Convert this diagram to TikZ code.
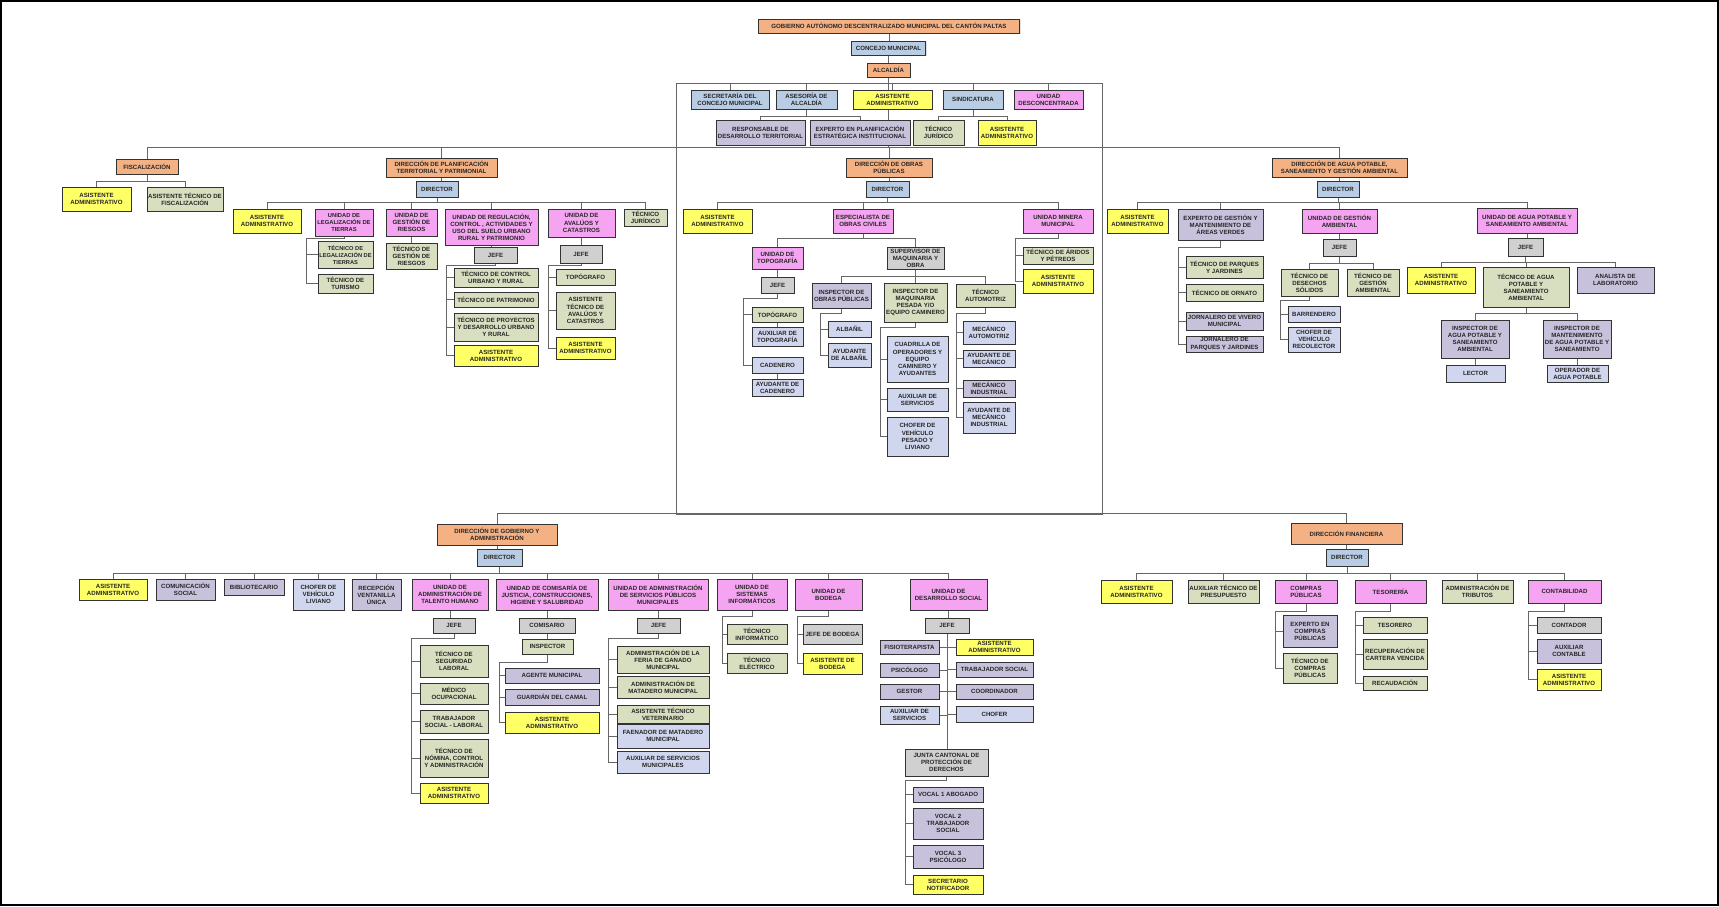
\documentclass[tikz,border=0pt]{standalone}
\usepackage{fontspec}
\setmainfont{Liberation Sans}
\usetikzlibrary{positioning,backgrounds,shadows}

\definecolor{naranja}{RGB}{244,177,131}
\definecolor{azul}{RGB}{184,204,228}
\definecolor{amarillo}{RGB}{255,255,102}
\definecolor{rosa}{RGB}{244,164,240}
\definecolor{verde}{RGB}{216,222,192}
\definecolor{gris}{RGB}{208,208,208}
\definecolor{lila}{RGB}{200,193,220}
\definecolor{celeste}{RGB}{208,214,238}

\tikzset{
  caja/.style={draw=black!80, line width=1pt, align=center, inner sep=0.5pt,
    font=\fontsize{6.1}{7.1}\selectfont\bfseries, text=black!85,
    drop shadow={shadow xshift=1pt, shadow yshift=-1pt, opacity=0.25}},
  sz/.style 2 args={minimum width=#1, minimum height=#2},
  nar/.style={caja, fill=naranja},
  azu/.style={caja, fill=azul},
  ama/.style={caja, fill=amarillo},
  ros/.style={caja, fill=rosa},
  ver/.style={caja, fill=verde},
  gri/.style={caja, fill=gris},
  lil/.style={caja, fill=lila},
  cel/.style={caja, fill=celeste},
  ln/.style={draw=black!60, line width=0.8pt}
}

\begin{document}
\begin{tikzpicture}[x=1pt,y=-1pt]
        \useasboundingbox (0,0) rectangle (1719,906);
        % Marco exterior
        \draw[line width=1.6pt] (1,1) rectangle (1718,905);

        % Rieles y marco central
        \coordinate (fTL) at (676,83);
        \coordinate (fBR) at (1102,514);
        \coordinate (rLeg) at (306,0);
        \coordinate (rReg) at (446,0);
        \coordinate (rAva) at (548,0);
        \coordinate (rTop) at (743,0);
        \coordinate (rIop) at (820,0);
        \coordinate (rImq) at (880,0);
        \coordinate (rAut) at (956,0);
        \coordinate (rMin) at (1015,0);
        \coordinate (rVer) at (1178,0);
        \coordinate (rDes) at (1280,0);
        \coordinate (rTal) at (411,0);
        \coordinate (rCom) at (499,0);
        \coordinate (rSer) at (608,0);
        \coordinate (rSis) at (722,0);
        \coordinate (rBod) at (797,0);
        \coordinate (rJun) at (905,0);
        \coordinate (rCmp) at (1275,0);
        \coordinate (rTes) at (1355,0);
        \coordinate (rCnt) at (1528,0);

        % Cabecera
        \node[nar, sz={261}{14}] (gad) at (889,26) {GOBIERNO AUTÓNOMO DESCENTRALIZADO MUNICIPAL DEL CANTÓN PALTAS};
        \node[azu, sz={74}{14}] (concejo) at (888.5,48) {CONCEJO MUNICIPAL};
        \node[nar, sz={43}{14}] (alcaldia) at (888.5,70) {ALCALDÍA};

        % Asesoría y apoyo
        \node[azu, sz={78}{19}] (secre) at (730,99.5) {SECRETARÍA DEL\\CONCEJO MUNICIPAL};
        \node[azu, sz={61}{19}] (asesoria) at (806.5,99.5) {ASESORÍA DE\\ALCALDÍA};
        \node[ama, sz={79}{19}] (asistA) at (892.5,99.5) {ASISTENTE\\ADMINISTRATIVO};
        \node[azu, sz={60}{19}] (sindic) at (973,99.5) {SINDICATURA};
        \node[ros, sz={69}{19}] (desconc) at (1048.5,99.5) {UNIDAD\\DESCONCENTRADA};
        \node[lil, sz={89}{25}] (respdt) at (760.5,132.5) {RESPONSABLE DE\\DESARROLLO TERRITORIAL};
        \node[lil, sz={100}{25}] (expplan) at (860,132.5) {EXPERTO EN PLANIFICACIÓN\\ESTRATÉGICA INSTITUCIONAL};
        \node[ver, sz={51}{25}] (tecjurA) at (938.5,132.5) {TÉCNICO\\JURÍDICO};
        \node[ama, sz={58}{25}] (asistS) at (1007,132.5) {ASISTENTE\\ADMINISTRATIVO};

        % Fiscalización
        \node[nar, sz={62}{15}] (fisc) at (147,166.5) {FISCALIZACIÓN};
        \node[ama, sz={69}{24}] (asistF) at (96.5,199) {ASISTENTE\\ADMINISTRATIVO};
        \node[ver, sz={76}{24}] (atfisc) at (185,199) {ASISTENTE TÉCNICO DE\\FISCALIZACIÓN};

        % Planificación territorial
        \node[nar, sz={111}{19}] (dirplan) at (441.5,167.5) {DIRECCIÓN DE PLANIFICACIÓN\\TERRITORIAL Y PATRIMONIAL};
        \node[azu, sz={42}{16}] (dirP) at (437,189) {DIRECTOR};
        \node[ama, sz={68}{24}] (asistP) at (267,221) {ASISTENTE\\ADMINISTRATIVO};
        \node[ros, sz={58}{27}, font=\fontsize{5.8}{7}\selectfont\bfseries] (ulegal) at (344,222.5) {UNIDAD DE\\LEGALIZACIÓN DE\\TIERRAS};
        \node[ver, sz={55}{27}, font=\fontsize{5.7}{7}\selectfont\bfseries] (teclegal) at (345.5,254.5) {TÉCNICO DE\\LEGALIZACIÓN DE\\TIERRAS};
        \node[ver, sz={55}{19}] (tectur) at (345.5,283.5) {TÉCNICO DE\\TURISMO};
        \node[ros, sz={51}{27}] (uriesgos) at (411.5,222.5) {UNIDAD DE\\GESTIÓN DE\\RIESGOS};
        \node[ver, sz={51}{26}] (tecriesgos) at (411.5,256) {TÉCNICO DE\\GESTIÓN DE\\RIESGOS};
        \node[ros, sz={93}{36}] (uregul) at (491.5,227) {UNIDAD DE REGULACIÓN,\\CONTROL , ACTIVIDADES Y\\USO DEL SUELO URBANO\\RURAL Y PATRIMONIO};
        \node[gri, sz={43}{16}] (jefeR) at (495.5,255) {JEFE};
        \node[ver, sz={84}{19}] (tcur) at (496,277.5) {TÉCNICO DE CONTROL\\URBANO Y RURAL};
        \node[ver, sz={84}{15}] (tpatr) at (496,299.5) {TÉCNICO DE PATRIMONIO};
        \node[ver, sz={84}{28}] (tproy) at (496,327) {TÉCNICO DE PROYECTOS\\Y DESARROLLO URBANO\\Y RURAL};
        \node[ama, sz={84}{21}] (asistR) at (496,355.5) {ASISTENTE\\ADMINISTRATIVO};
        \node[ros, sz={67}{28}] (uaval) at (581.5,223) {UNIDAD DE\\AVALÚOS Y\\CATASTROS};
        \node[gri, sz={42}{18}] (jefeAv) at (581,254) {JEFE};
        \node[ver, sz={59}{16}] (topoAv) at (585.5,277) {TOPÓGRAFO};
        \node[ver, sz={59}{37}] (atav) at (585.5,310.5) {ASISTENTE\\TÉCNICO DE\\AVALÚOS Y\\CATASTROS};
        \node[ama, sz={59}{22}] (asistAv) at (585.5,348) {ASISTENTE\\ADMINISTRATIVO};
        \node[ver, sz={43}{17}] (tecjurP) at (645.5,217.5) {TÉCNICO\\JURÍDICO};

        % Obras públicas
        \node[nar, sz={86}{19}] (obras) at (889,167.5) {DIRECCIÓN DE OBRAS\\PÚBLICAS};
        \node[azu, sz={43}{16}] (dirO) at (887.5,189) {DIRECTOR};
        \node[ama, sz={69}{24}] (asistO) at (717.5,221) {ASISTENTE\\ADMINISTRATIVO};
        \node[ros, sz={60}{24}] (espoc) at (863,221) {ESPECIALISTA DE\\OBRAS CIVILES};
        \node[ros, sz={70}{24}] (uminera) at (1058,221) {UNIDAD MINERA\\MUNICIPAL};
        \node[ver, sz={70}{17}] (aridos) at (1058,255.5) {TÉCNICO DE ÁRIDOS\\Y PÉTREOS};
        \node[ama, sz={70}{24}] (asistM) at (1058,281) {ASISTENTE\\ADMINISTRATIVO};
        \node[ros, sz={51}{22}] (utopo) at (777.5,258) {UNIDAD DE\\TOPOGRAFÍA};
        \node[gri, sz={33}{16}] (jefeT) at (777.5,285) {JEFE};
        \node[ver, sz={51}{15}] (topoT) at (777.5,314.5) {TOPÓGRAFO};
        \node[cel, sz={51}{19}] (auxtopo) at (777.5,336.5) {AUXILIAR DE\\TOPOGRAFÍA};
        \node[cel, sz={51}{16}] (cadenero) at (777.5,365) {CADENERO};
        \node[cel, sz={51}{17}] (aycad) at (777.5,387.5) {AYUDANTE DE\\CADENERO};
        \node[gri, sz={57}{22}] (superv) at (915.5,258) {SUPERVISOR DE\\MAQUINARIA Y\\OBRA};
        \node[lil, sz={59}{25}] (inspop) at (841.5,295.5) {INSPECTOR DE\\OBRAS PÚBLICAS};
        \node[cel, sz={43}{16}] (albanil) at (849.5,329) {ALBAÑIL};
        \node[cel, sz={43}{24}] (ayalb) at (849.5,355) {AYUDANTE\\DE ALBAÑIL};
        \node[ver, sz={63}{39}] (inspmaq) at (915.5,302.5) {INSPECTOR DE\\MAQUINARIA\\PESADA Y/O\\EQUIPO CAMINERO};
        \node[cel, sz={61}{46}] (cuadrilla) at (917.5,359) {CUADRILLA DE\\OPERADORES Y\\EQUIPO\\CAMINERO Y\\AYUDANTES};
        \node[cel, sz={61}{23}] (auxserv) at (917.5,399.5) {AUXILIAR DE\\SERVICIOS};
        \node[cel, sz={61}{39}] (chofpes) at (917.5,436.5) {CHOFER DE\\VEHÍCULO\\PESADO Y\\LIVIANO};
        \node[ver, sz={59}{23}] (tecauto) at (985.5,295.5) {TÉCNICO\\AUTOMOTRIZ};
        \node[cel, sz={52}{23}] (mecauto) at (989,332.5) {MECÁNICO\\AUTOMOTRIZ};
        \node[cel, sz={52}{17}] (aymec) at (989,358.5) {AYUDANTE DE\\MECÁNICO};
        \node[lil, sz={52}{17}] (mecind) at (989,388.5) {MECÁNICO\\INDUSTRIAL};
        \node[cel, sz={52}{31}] (aymecind) at (989,417.5) {AYUDANTE DE\\MECÁNICO\\INDUSTRIAL};

        % Agua potable y ambiente
        \node[nar, sz={135}{19}] (agua) at (1339.5,167.5) {DIRECCIÓN DE AGUA POTABLE,\\SANEAMIENTO Y GESTIÓN AMBIENTAL};
        \node[azu, sz={42}{16}] (dirA) at (1338,189) {DIRECTOR};
        \node[ama, sz={61}{24}] (asistAg) at (1137.5,221) {ASISTENTE\\ADMINISTRATIVO};
        \node[lil, sz={85}{31}] (expav) at (1220.5,224.5) {EXPERTO DE GESTIÓN Y\\MANTENIMIENTO DE\\ÁREAS VERDES};
        \node[ver, sz={77}{22}] (tpj) at (1224.5,267) {TÉCNICO DE PARQUES\\Y JARDINES};
        \node[ver, sz={77}{17}] (torn) at (1224.5,292.5) {TÉCNICO DE ORNATO};
        \node[lil, sz={77}{18}] (jviv) at (1224.5,321) {JORNALERO DE VIVERO\\MUNICIPAL};
        \node[lil, sz={77}{16}] (jpj) at (1224.5,344) {JORNALERO DE\\PARQUES Y JARDINES};
        \node[ros, sz={75}{24}] (ugamb) at (1339.5,221) {UNIDAD DE GESTIÓN\\AMBIENTAL};
        \node[gri, sz={33}{17}] (jefeG) at (1339.5,247.5) {JEFE};
        \node[ver, sz={57}{27}] (tds) at (1309.5,282.5) {TÉCNICO DE\\DESECHOS\\SÓLIDOS};
        \node[ver, sz={52}{27}] (tgamb) at (1373,282.5) {TÉCNICO DE\\GESTIÓN\\AMBIENTAL};
        \node[cel, sz={52}{16}] (barr) at (1314,314) {BARRENDERO};
        \node[cel, sz={52}{25}] (chofrec) at (1314,339.5) {CHOFER DE\\VEHÍCULO\\RECOLECTOR};
        \node[ros, sz={100}{25}] (uagua) at (1527,220.5) {UNIDAD DE AGUA POTABLE Y\\SANEAMIENTO AMBIENTAL};
        \node[gri, sz={35}{18}] (jefeU) at (1525.5,247) {JEFE};
        \node[ama, sz={68}{26}] (asistU) at (1441,280) {ASISTENTE\\ADMINISTRATIVO};
        \node[ver, sz={86}{40}] (tapsa) at (1526,287) {TÉCNICO DE AGUA\\POTABLE Y\\SANEAMIENTO\\AMBIENTAL};
        \node[lil, sz={77}{26}] (analab) at (1615.5,280) {ANALISTA DE\\LABORATORIO};
        \node[lil, sz={68}{38}] (inspap) at (1475,339) {INSPECTOR DE\\AGUA POTABLE Y\\SANEAMIENTO\\AMBIENTAL};
        \node[cel, sz={59}{17}] (lector) at (1475.5,373.5) {LECTOR};
        \node[lil, sz={68}{38}] (inspmant) at (1577,339) {INSPECTOR DE\\MANTENIMIENTO\\DE AGUA POTABLE Y\\SANEAMIENTO};
        \node[cel, sz={61}{17}] (operap) at (1577.5,373.5) {OPERADOR DE\\AGUA POTABLE};

        % Gobierno y administración
        \node[nar, sz={120}{21}] (dirgob) at (497,534.5) {DIRECCIÓN DE GOBIERNO Y\\ADMINISTRACIÓN};
        \node[azu, sz={45}{17}] (dirG) at (499.5,557.5) {DIRECTOR};
        \node[ama, sz={68}{21}] (asistG) at (113,589.5) {ASISTENTE\\ADMINISTRATIVO};
        \node[lil, sz={59}{21}] (comsoc) at (185.5,589.5) {COMUNICACIÓN\\SOCIAL};
        \node[lil, sz={60}{16}] (biblio) at (254,587) {BIBLIOTECARIO};
        \node[cel, sz={51}{31}] (chofliv) at (318.5,594.5) {CHOFER DE\\VEHÍCULO\\LIVIANO};
        \node[lil, sz={49}{31}] (recep) at (376.5,594.5) {RECEPCIÓN\\VENTANILLA\\ÚNICA};
        \node[ros, sz={76}{31}] (uth) at (450,594.5) {UNIDAD DE\\ADMINISTRACIÓN DE\\TALENTO HUMANO};
        \node[gri, sz={42}{15}] (jefeTH) at (454,625.5) {JEFE};
        \node[ver, sz={68}{32}] (tsl) at (454,661) {TÉCNICO DE\\SEGURIDAD\\LABORAL};
        \node[ver, sz={68}{21}] (medoc) at (454,693.5) {MÉDICO\\OCUPACIONAL};
        \node[ver, sz={68}{23}] (tsocl) at (454,721.5) {TRABAJADOR\\SOCIAL - LABORAL};
        \node[ver, sz={68}{38}] (tnom) at (454,758) {TÉCNICO DE\\NÓMINA, CONTROL\\Y ADMINISTRACIÓN};
        \node[ama, sz={68}{20}] (asistTH) at (454,793) {ASISTENTE\\ADMINISTRATIVO};
        \node[ros, sz={102}{31}] (ucom) at (547,594.5) {UNIDAD DE COMISARÍA DE\\JUSTICIA, CONSTRUCCIONES,\\HIGIENE Y SALUBRIDAD};
        \node[gri, sz={56}{15}] (comis) at (547,625.5) {COMISARIO};
        \node[ver, sz={51}{15}] (insp) at (547.5,646.5) {INSPECTOR};
        \node[lil, sz={94}{15}] (agmun) at (552,675.5) {AGENTE MUNICIPAL};
        \node[lil, sz={94}{16}] (guard) at (552,697) {GUARDIÁN DEL CAMAL};
        \node[ama, sz={94}{21}] (asistC) at (552,722.5) {ASISTENTE\\ADMINISTRATIVO};
        \node[ros, sz={100}{31}] (usp) at (658,594.5) {UNIDAD DE ADMINISTRACIÓN\\DE SERVICIOS PÚBLICOS\\MUNICIPALES};
        \node[gri, sz={43}{15}] (jefeSP) at (658.5,625.5) {JEFE};
        \node[ver, sz={92}{27}] (feria) at (663,659.5) {ADMINISTRACIÓN DE LA\\FERIA DE GANADO\\MUNICIPAL};
        \node[ver, sz={92}{22}] (matad) at (663,687) {ADMINISTRACIÓN DE\\MATADERO MUNICIPAL};
        \node[ver, sz={92}{18}] (vet) at (663,714) {ASISTENTE TÉCNICO\\VETERINARIO};
        \node[cel, sz={92}{24}] (faen) at (663,736) {FAENADOR DE MATADERO\\MUNICIPAL};
        \node[cel, sz={92}{22}] (auxsm) at (663,762) {AUXILIAR DE SERVICIOS\\MUNICIPALES};
        \node[ros, sz={70}{31}] (usis) at (752,594.5) {UNIDAD DE\\SISTEMAS\\INFORMÁTICOS};
        \node[ver, sz={60}{20}] (tinf) at (757,634) {TÉCNICO\\INFORMÁTICO};
        \node[ver, sz={60}{20}] (telec) at (757,663) {TÉCNICO\\ELÉCTRICO};
        \node[ros, sz={67}{31}] (ubod) at (828.5,594.5) {UNIDAD DE\\BODEGA};
        \node[gri, sz={59}{20}] (jbod) at (832.5,634) {JEFE DE BODEGA};
        \node[ama, sz={59}{21}] (asbod) at (832.5,663.5) {ASISTENTE DE\\BODEGA};
        \node[ros, sz={77}{31}] (uds) at (948.5,594.5) {UNIDAD DE\\DESARROLLO SOCIAL};
        \node[gri, sz={44}{15}] (jefeDS) at (947,625.5) {JEFE};
        \node[lil, sz={59}{14}] (fisio) at (909.5,647) {FISIOTERAPISTA};
        \node[lil, sz={59}{14}] (psico) at (909.5,670) {PSICÓLOGO};
        \node[lil, sz={59}{15}] (gestor) at (909.5,691.5) {GESTOR};
        \node[cel, sz={59}{18}] (auxds) at (909.5,715) {AUXILIAR DE\\SERVICIOS};
        \node[ama, sz={77}{16}] (asistDS) at (994.5,647) {ASISTENTE\\ADMINISTRATIVO};
        \node[lil, sz={77}{15}] (tsoc) at (994.5,669.5) {TRABAJADOR SOCIAL};
        \node[lil, sz={77}{15}] (coord) at (994.5,691.5) {COORDINADOR};
        \node[cel, sz={77}{16}] (chofds) at (994.5,714) {CHOFER};
        \node[gri, sz={83}{27}] (junta) at (946.5,762.5) {JUNTA CANTONAL DE\\PROTECCIÓN DE\\DERECHOS};
        \node[lil, sz={70}{15}] (vocal1) at (948,794.5) {VOCAL 1 ABOGADO};
        \node[lil, sz={70}{31}] (vocal2) at (948,823.5) {VOCAL 2\\TRABAJADOR\\SOCIAL};
        \node[lil, sz={70}{23}] (vocal3) at (948,856.5) {VOCAL 3\\PSICÓLOGO};
        \node[ama, sz={70}{19}] (secnot) at (948,884.5) {SECRETARIO\\NOTIFICADOR};

        % Financiera
        \node[nar, sz={111}{21}] (dirfin) at (1346.5,533.5) {DIRECCIÓN FINANCIERA};
        \node[azu, sz={42}{17}] (dirF) at (1347,557.5) {DIRECTOR};
        \node[ama, sz={71}{23}] (asistF2) at (1136.5,591.5) {ASISTENTE\\ADMINISTRATIVO};
        \node[ver, sz={71}{23}] (auxpres) at (1223.5,591.5) {AUXILIAR TÉCNICO DE\\PRESUPUESTO};
        \node[ros, sz={62}{23}] (compras) at (1306,591.5) {COMPRAS\\PÚBLICAS};
        \node[lil, sz={54}{32}] (expcp) at (1310,631) {EXPERTO EN\\COMPRAS\\PÚBLICAS};
        \node[ver, sz={54}{30}] (teccp) at (1310,668) {TÉCNICO DE\\COMPRAS\\PÚBLICAS};
        \node[ros, sz={71}{23}] (tesor) at (1390.5,591.5) {TESORERÍA};
        \node[ver, sz={64}{16}] (tesorero) at (1395,625) {TESORERO};
        \node[ver, sz={64}{30}] (recup) at (1395,654) {RECUPERACIÓN DE\\CARTERA VENCIDA};
        \node[ver, sz={64}{14}] (recaud) at (1395,683) {RECAUDACIÓN};
        \node[ver, sz={71}{23}] (tribut) at (1477.5,591.5) {ADMINISTRACIÓN DE\\TRIBUTOS};
        \node[ros, sz={73}{23}] (contab) at (1564.5,591.5) {CONTABILIDAD};
        \node[gri, sz={64}{16}] (contador) at (1569,625) {CONTADOR};
        \node[lil, sz={64}{24}] (auxcont) at (1569,651) {AUXILIAR\\CONTABLE};
        \node[ama, sz={64}{21}] (asistCt) at (1569,679.5) {ASISTENTE\\ADMINISTRATIVO};

        \begin{scope}[on background layer]
        % Cabecera y marco
        \draw[ln] (gad.south) -- (gad.south |- concejo.north);
        \draw[ln] (concejo.south) -- (concejo.south |- alcaldia.north);
        \draw[ln] (fTL) rectangle (fBR);
        \foreach \ch in {secre,asesoria,asistA,sindic,desconc}
          \draw[ln] (alcaldia.south) -- ++(0,6) -| (\ch.north);
        \foreach \ch in {respdt,expplan}
          \draw[ln] (asesoria.south) -- ++(0,7) -| (\ch.north);
        \foreach \ch in {tecjurA,asistS}
          \draw[ln] (sindic.south) -- ++(0,7) -| (\ch.north);
        \foreach \ch in {fisc,dirplan,obras,agua}
          \draw[ln] (alcaldia.south) -- ++(0,70) -| (\ch.north);
        \draw[ln] (dirgob.north) -- ++(0,-10) -| (dirfin.north);

        % Fiscalización
        \foreach \ch in {asistF,atfisc}
          \draw[ln] (fisc.south) -- ++(0,7) -| (\ch.north);

        % Planificación
        \draw[ln] (dirplan.south) -- (dirplan.south |- dirP.north);
        \foreach \ch in {asistP,ulegal,uriesgos,uregul,uaval,tecjurP}
          \draw[ln] (dirP.south) -- ++(0,5) -| (\ch.north);
        \foreach \ch in {teclegal,tectur}
          \draw[ln] (ulegal.south) -- ++(0,2) -| (\ch.west -| rLeg) -- (\ch.west);
        \draw[ln] (uriesgos.south) -- (uriesgos.south |- tecriesgos.north);
        \draw[ln] (uregul.south) -- (uregul.south |- jefeR.north);
        \foreach \ch in {tcur,tpatr,tproy,asistR}
          \draw[ln] (jefeR.south) -- ++(0,2) -| (\ch.west -| rReg) -- (\ch.west);
        \draw[ln] (uaval.south) -- (uaval.south |- jefeAv.north);
        \foreach \ch in {topoAv,atav,asistAv}
          \draw[ln] (jefeAv.south) -- ++(0,2) -| (\ch.west -| rAva) -- (\ch.west);

        % Obras públicas
        \draw[ln] (obras.south) -- (obras.south |- dirO.north);
        \foreach \ch in {asistO,espoc,uminera}
          \draw[ln] (dirO.south) -- ++(0,5) -| (\ch.north);
        \foreach \ch in {aridos,asistM}
          \draw[ln] (uminera.south) -- ++(0,5) -| (\ch.west -| rMin) -- (\ch.west);
        \foreach \ch in {utopo,superv}
          \draw[ln] (espoc.south) -- ++(0,5) -| (\ch.north);
        \draw[ln] (utopo.south) -- (utopo.south |- jefeT.north);
        \foreach \ch in {topoT,cadenero}
          \draw[ln] (jefeT.south) -- ++(0,5) -| (\ch.west -| rTop) -- (\ch.west);
        \draw[ln] (topoT.south) -- (topoT.south |- auxtopo.north);
        \draw[ln] (cadenero.south) -- (cadenero.south |- aycad.north);
        \foreach \ch in {inspop,inspmaq,tecauto}
          \draw[ln] (superv.south) -- ++(0,7) -| (\ch.north);
        \foreach \ch in {albanil,ayalb}
          \draw[ln] (inspop.south) -- ++(0,5) -| (\ch.west -| rIop) -- (\ch.west);
        \foreach \ch in {cuadrilla,auxserv,chofpes}
          \draw[ln] (inspmaq.south) -- ++(0,5) -| (\ch.west -| rImq) -- (\ch.west);
        \foreach \ch in {mecauto,aymec,mecind,aymecind}
          \draw[ln] (tecauto.south) -- ++(0,6) -| (\ch.west -| rAut) -- (\ch.west);

        % Agua potable
        \draw[ln] (agua.south) -- (agua.south |- dirA.north);
        \foreach \ch in {asistAg,expav,ugamb,uagua}
          \draw[ln] (dirA.south) -- ++(0,5) -| (\ch.north);
        \foreach \ch in {tpj,torn,jviv,jpj}
          \draw[ln] (expav.south) -- ++(0,7) -| (\ch.west -| rVer) -- (\ch.west);
        \draw[ln] (ugamb.south) -- (ugamb.south |- jefeG.north);
        \foreach \ch in {tds,tgamb}
          \draw[ln] (jefeG.south) -- ++(0,7) -| (\ch.north);
        \foreach \ch in {barr,chofrec}
          \draw[ln] (tds.south) -- ++(0,4) -| (\ch.west -| rDes) -- (\ch.west);
        \draw[ln] (uagua.south) -- (uagua.south |- jefeU.north);
        \foreach \ch in {asistU,tapsa,analab}
          \draw[ln] (jefeU.south) -- ++(0,6) -| (\ch.north);
        \foreach \ch in {inspap,inspmant}
          \draw[ln] (tapsa.south) -- ++(0,6) -| (\ch.north);
        \draw[ln] (inspap.south) -- (inspap.south |- lector.north);
        \draw[ln] (inspmant.south) -- (inspmant.south |- operap.north);

        % Gobierno
        \draw[ln] (dirgob.south) -- (dirgob.south |- dirG.north);
        \foreach \ch in {asistG,comsoc,biblio,chofliv,recep,uth,ucom,usp,usis,ubod,uds}
          \draw[ln] (dirG.south) -- ++(0,7) -| (\ch.north);
        \draw[ln] (uth.south) -- (uth.south |- jefeTH.north);
        \foreach \ch in {tsl,medoc,tsocl,tnom,asistTH}
          \draw[ln] (jefeTH.south) -- ++(0,5) -| (\ch.west -| rTal) -- (\ch.west);
        \draw[ln] (ucom.south) -- (ucom.south |- comis.north);
        \draw[ln] (comis.south) -- (comis.south |- insp.north);
        \foreach \ch in {agmun,guard,asistC}
          \draw[ln] (insp.south) -- ++(0,8) -| (\ch.west -| rCom) -- (\ch.west);
        \draw[ln] (usp.south) -- (usp.south |- jefeSP.north);
        \foreach \ch in {feria,matad,vet,faen,auxsm}
          \draw[ln] (jefeSP.south) -- ++(0,5) -| (\ch.west -| rSer) -- (\ch.west);
        \foreach \ch in {tinf,telec}
          \draw[ln] (usis.south) -- ++(0,6) -| (\ch.west -| rSis) -- (\ch.west);
        \foreach \ch in {jbod,asbod}
          \draw[ln] (ubod.south) -- ++(0,6) -| (\ch.west -| rBod) -- (\ch.west);
        \draw[ln] (uds.south) -- (uds.south |- jefeDS.north);
        \draw[ln] (jefeDS.south) -- (jefeDS.south |- junta.north);
        \foreach \ch in {fisio,psico,gestor,auxds}
          \draw[ln] (\ch.east) -- (\ch.east -| jefeDS.south);
        \foreach \ch in {asistDS,tsoc,coord,chofds}
          \draw[ln] (\ch.west) -- (\ch.west -| jefeDS.south);
        \foreach \ch in {vocal1,vocal2,vocal3,secnot}
          \draw[ln] (junta.south) -- ++(0,4) -| (\ch.west -| rJun) -- (\ch.west);

        % Financiera
        \draw[ln] (dirfin.south) -- (dirfin.south |- dirF.north);
        \foreach \ch in {asistF2,auxpres,compras,tesor,tribut,contab}
          \draw[ln] (dirF.south) -- ++(0,7) -| (\ch.north);
        \foreach \ch in {expcp,teccp}
          \draw[ln] (compras.south) -- ++(0,8) -| (\ch.west -| rCmp) -- (\ch.west);
        \foreach \ch in {tesorero,recup,recaud}
          \draw[ln] (tesor.south) -- ++(0,8) -| (\ch.west -| rTes) -- (\ch.west);
        \foreach \ch in {contador,auxcont,asistCt}
          \draw[ln] (contab.south) -- ++(0,8) -| (\ch.west -| rCnt) -- (\ch.west);
        \end{scope}
\end{tikzpicture}
\end{document}
